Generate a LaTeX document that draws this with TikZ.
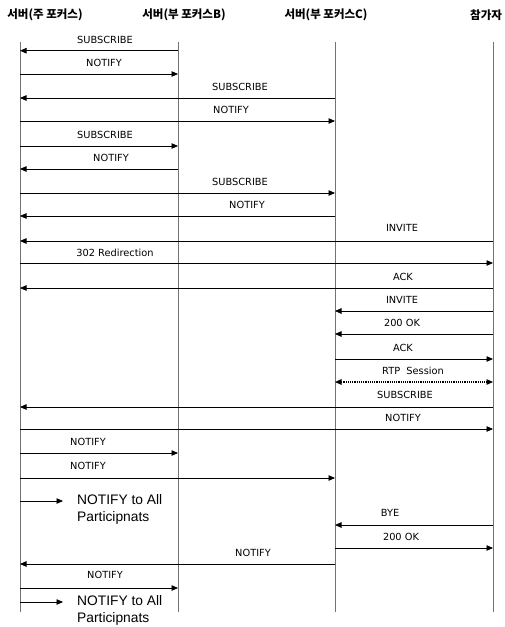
\documentclass[tikz,border=0pt]{standalone}
\usepackage{fontspec}
\setmainfont{DejaVu Sans}
\newfontfamily\krfont{Noto Sans CJK KR}
\newfontfamily\arialfont{Liberation Sans}
\usetikzlibrary{arrows.meta}

\begin{document}
\begin{tikzpicture}[x=1pt, y=-1pt, line join=round,
    life/.style={draw=black!55, line width=0.9pt},
    msg/.style={-{Triangle[length=6.5pt,width=5.5pt]}, line width=0.8pt},
    rtp/.style={{Triangle[length=6.5pt,width=5.5pt]}-{Triangle[length=6.5pt,width=5.5pt]}, line width=1.2pt, dash pattern=on 1.2pt off 1pt},
    lbl/.style={font=\fontsize{9.8}{11}\selectfont, inner sep=0pt},
    head/.style={font=\krfont\bfseries\fontsize{11.5}{13}\selectfont, inner sep=0pt},
    note/.style={font=\arialfont\fontsize{13.8}{17}\selectfont, align=left, inner sep=0pt, anchor=west}]
  \useasboundingbox (0,0) rectangle (504,627);
  % participants
  \node[head] (hA) at (45,15) {서버(주 포커스)};
  \node[head] (hB) at (184,15) {서버(부 포커스B)};
  \node[head] (hC) at (326,15) {서버(부 포커스C)};
  \node[head, anchor=west] (hD) at (470,15) {참가자};
  % lifelines
  \coordinate (A) at (20,42);  \coordinate (Aend) at (20,612);
  \coordinate (B) at (178,42); \coordinate (Bend) at (178,612);
  \coordinate (C) at (335,42); \coordinate (Cend) at (335,612);
  \coordinate (D) at (493,42); \coordinate (Dend) at (493,612);
  \draw[life] (A) -- (Aend);
  \draw[life] (B) -- (Bend);
  \draw[life] (C) -- (Cend);
  \draw[life] (D) -- (Dend);
  % messages
  \foreach \f/\t/\y/\lx/\ly/\txt [count=\i] in {
      B/A/50.7/105/40/SUBSCRIBE, A/B/74/104/63/NOTIFY,
      C/A/98/240/87/SUBSCRIBE, A/C/121/231/110/NOTIFY,
      A/B/146/105/135/SUBSCRIBE, B/A/169/111/158/NOTIFY,
      A/C/193/240/182/SUBSCRIBE, C/A/216/247/205/NOTIFY,
      D/A/241/402/228/INVITE, A/D/263/115/253/302 Redirection,
      D/A/288/403/277/ACK, D/C/311/402/300/INVITE,
      D/C/334/402/323/200 OK, C/D/359/403/348/ACK,
      D/A/407/405/395/SUBSCRIBE, A/D/429/403/418/NOTIFY,
      A/B/453/88/442/NOTIFY, A/C/478/88/466/NOTIFY,
      D/C/525/390/513/BYE, C/D/548/401/537/200 OK,
      C/A/564/253/553/NOTIFY, A/B/588/105/575/NOTIFY}{
    \draw[msg] (\f |- 0,\y) -- (\t |- 0,\y);
    \node[lbl] (m\i) at (\lx,\ly) {\txt};
  }
  % media
  \draw[rtp] (C |- 0,382) -- (D |- 0,382);
  \node[lbl] (rtp) at (413,371) {RTP\ \ Session};
  % local notifications
  \coordinate (n1) at (63,501);
  \coordinate (n2) at (63,602);
  \draw[msg] (A |- n1) -- (n1);
  \draw[msg] (A |- n2) -- (n2);
  \node[note] (all1) at (77,509) {NOTIFY to All\\Participnats};
  \node[note] (all2) at (77,610) {NOTIFY to All\\Participnats};
\end{tikzpicture}
\end{document}
